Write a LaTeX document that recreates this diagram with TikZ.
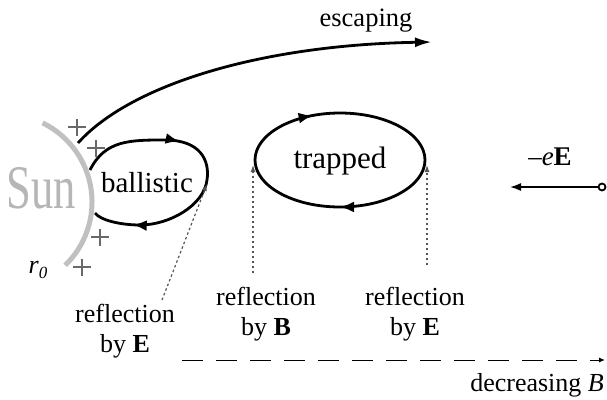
\documentclass[tikz,border=0pt]{standalone}
\usepackage{fontspec}
\setmainfont{Liberation Serif}
\usepackage{graphicx}
\usetikzlibrary{arrows.meta,decorations.markings}
\definecolor{sungray}{RGB}{182,182,182}
\definecolor{arcgray}{RGB}{192,192,192}
\definecolor{plusgray}{RGB}{105,105,105}
\definecolor{guidegray}{RGB}{85,85,85}
\begin{document}
\begin{tikzpicture}[x=1pt,y=-1pt,
  txt/.style={inner sep=0pt,font=\fontsize{26}{30}\selectfont},
  twoline/.style={txt,align=center,anchor=north},
  orbit/.style={line width=2.8pt,black},
  flowmarks/.style 2 args={decoration={markings,
      mark=at position #1 with {\arrow{Latex[length=14pt,width=11pt]}},
      mark=at position #2 with {\arrow{Latex[length=14pt,width=11pt]}}},
    postaction={decorate}},
  guide/.style={line width=1.2pt,guidegray,dash pattern=on 2.5pt off 2.5pt,
    -{Latex[length=7pt,width=5pt]}},
  plussign/.style={line width=2.5pt,plusgray},
]
\useasboundingbox (0,0) rectangle (607,399);

% the solar surface at r_0
\draw[line width=5pt,arcgray] (42.6,122.9) arc[start angle=64,end angle=-46,radius=88pt];
\node[inner sep=0pt,anchor=base,text=sungray,font=\fontsize{62}{62}\selectfont]
  (sun) at (41,208) {\scalebox{0.72}[1]{Sun}};
\foreach \px/\py in {77/127,96/148,100/237,82/267}
  \draw[plussign] (\px-9,\py) -- (\px+9,\py) (\px,\py-8.5) -- (\px,\py+8.5);
\node[txt,anchor=base] (r0) at (38,273)
  {\textit{r}\raisebox{-5pt}{\fontsize{17}{17}\selectfont\textit{0}}};

% escaping electron
\coordinate (esc0) at (78,143);
\coordinate (esc1) at (432,42);
\draw[orbit,-{Latex[length=17pt,width=10pt]}] (esc0) .. controls (130,85) and (260,45) .. (esc1);
\node[txt,anchor=base,font=\fontsize{26.5}{30}\selectfont] (escaping) at (366,26) {escaping};

% ballistic orbit
\coordinate (bal0) at (90,170);
\coordinate (bal1) at (95,213);
\draw[orbit,flowmarks={0.35}{0.86}] (bal0) .. controls (105,140) and (130,140) .. (165,140)
  .. controls (200,140) and (210,160) .. (207,180)
  .. controls (204,205) and (170,225) .. (140,225)
  .. controls (120,225) and (100,220) .. (bal1);
\node[txt,anchor=base,font=\fontsize{29}{32}\selectfont] (ballistic) at (147,192) {ballistic};

% trapped orbit
\coordinate (trapc) at (340,160);
\draw[orbit,flowmarks={0.25}{0.685}] (trapc) ellipse [x radius=85,y radius=47];
\node[txt,anchor=base,font=\fontsize{31}{34}\selectfont] (trapped) at (340,168) {trapped};

% reflection points
\coordinate (refE1a) at (162,300);
\coordinate (refE1b) at (207,184);
\coordinate (refBa) at (253,273);
\coordinate (refBb) at (253,165);
\coordinate (refE2a) at (427,265);
\coordinate (refE2b) at (427,165);
\draw[guide] (refE1a) -- (refE1b);
\draw[guide] (refBa) -- (refBb);
\draw[guide] (refE2a) -- (refE2b);
\node[twoline] (lblE1) at (125,304) {reflection\\by \textbf{E}};
\node[twoline] (lblB) at (266,287) {reflection\\by \textbf{B}};
\node[twoline] (lblE2) at (415,287) {reflection\\by \textbf{E}};

% electric force on an electron
\node[circle,draw,line width=1.8pt,fill=white,inner sep=0pt,minimum size=7pt] (charge) at (602,187) {};
\coordinate (forcetip) at (510,187);
\draw[line width=1.6pt,-{Latex[length=11pt,width=8pt]}] (charge) -- (forcetip);
\node[txt,anchor=base,font=\fontsize{27}{30}\selectfont] (force) at (550,165) {\textendash\textit{e}\textbf{E}};

% field strength gradient
\coordinate (gradL) at (182,360);
\coordinate (gradR) at (605,360);
\draw[line width=1pt,dash pattern=on 21pt off 13pt,-{Latex[length=6pt,width=5pt]}] (gradL) -- (gradR);
\node[txt,anchor=base east] (gradlbl) at (604,391) {decreasing \textit{B}};
\end{tikzpicture}
\end{document}
